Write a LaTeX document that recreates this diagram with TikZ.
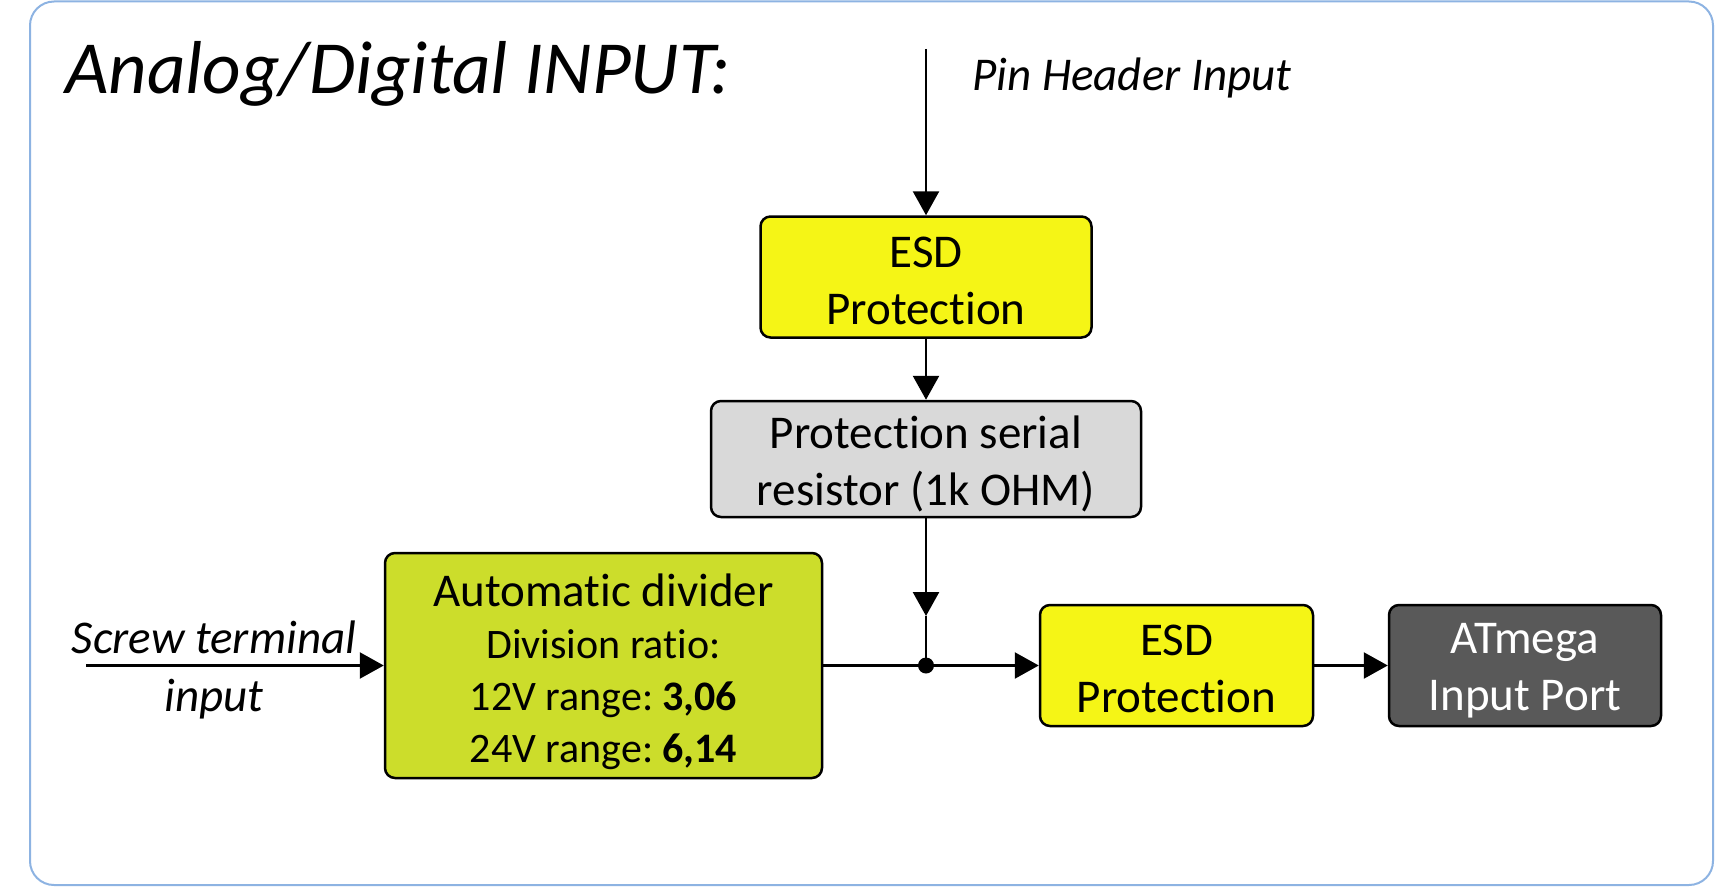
\documentclass[tikz,border=0pt]{standalone}
\usepackage{fontspec}
\setmainfont{Carlito}[Ligatures=NoCommon]
\usetikzlibrary{arrows.meta}
\definecolor{esdyellow}{RGB}{245,245,22}
\definecolor{divgreen}{RGB}{204,221,43}
\definecolor{resgray}{RGB}{217,217,217}
\definecolor{atgray}{RGB}{89,89,89}
\definecolor{frameblue}{RGB}{141,179,226}
\newcommand{\smallline}{\fontsize{42}{52}\selectfont}
\begin{document}
\begin{tikzpicture}[x=1pt,y=-1pt,
  blk/.style={draw=black,line width=2.5pt,rounded corners=10pt,align=center,inner sep=0pt,font=\fontsize{47}{57}\selectfont},
  conn/.style={line width=2.5pt,-{Triangle[length=24pt,width=26pt]}},
  lbl/.style={font=\itshape\fontsize{47}{58}\selectfont,inner sep=0pt}
  ]
\useasboundingbox (0,0) rectangle (1724,891);
\draw[frameblue,line width=2pt,rounded corners=24pt] (30,1.5) rectangle (1713,885);
\node[anchor=base west,inner sep=0pt,font=\itshape\fontsize{75}{90}\selectfont] (title) at (65,93) {Analog/Digital INPUT:};
\node[lbl,anchor=base west] (pinlbl) at (972,90) {Pin Header Input};
\coordinate (pintop) at (926,49);
\node[blk,fill=esdyellow,minimum width=331pt,minimum height=121pt] (esd1) at (926,277) {\rule{0pt}{38pt}ESD\\Protection};
\node[blk,fill=resgray,minimum width=430pt,minimum height=116pt] (res) at (926,459) {\rule{0pt}{42pt}Protection serial\\resistor (1k OHM)};
\node[blk,fill=divgreen,minimum width=437pt,minimum height=225pt,font=\smallline] (div) at (603.5,665.5)
  {\fontsize{47}{52}\selectfont\rule{0pt}{46pt}Automatic divider\\\smallline Division ratio:\\\smallline 12V range:\hspace{9pt}\textbf{3,06}\\\smallline 24V range:\hspace{9pt}\textbf{6,14}};
\node[blk,fill=esdyellow,minimum width=273pt,minimum height=121pt] (esd2) at (1176.5,665.5) {\rule{0pt}{38pt}ESD\\Protection};
\node[blk,fill=atgray,text=white,minimum width=272pt,minimum height=121pt] (atm) at (1525,665.5) {\rule{0pt}{40pt}ATmega\\Input Port};
\node[lbl,align=center] (screwlbl) at (214,670) {Screw terminal\\input};
\coordinate (jn) at (926,665.5);
\coordinate (jarr) at (926,616);
\coordinate (screwstart) at (86,665.5);
\draw[conn] (pintop) -- (esd1.north);
\draw[conn] (esd1.south) -- (res.north);
\draw[conn] (res.south) -- (jarr);
\draw[line width=1.5pt] (jarr) -- (jn);
\draw[line width=2.5pt] (div.east) -- (jn);
\fill (jn) circle (8pt);
\draw[conn] (jn) -- (esd2.west);
\draw[conn] (esd2.east) -- (atm.west);
\draw[conn] (screwstart) -- (div.west);
\end{tikzpicture}
\end{document}
